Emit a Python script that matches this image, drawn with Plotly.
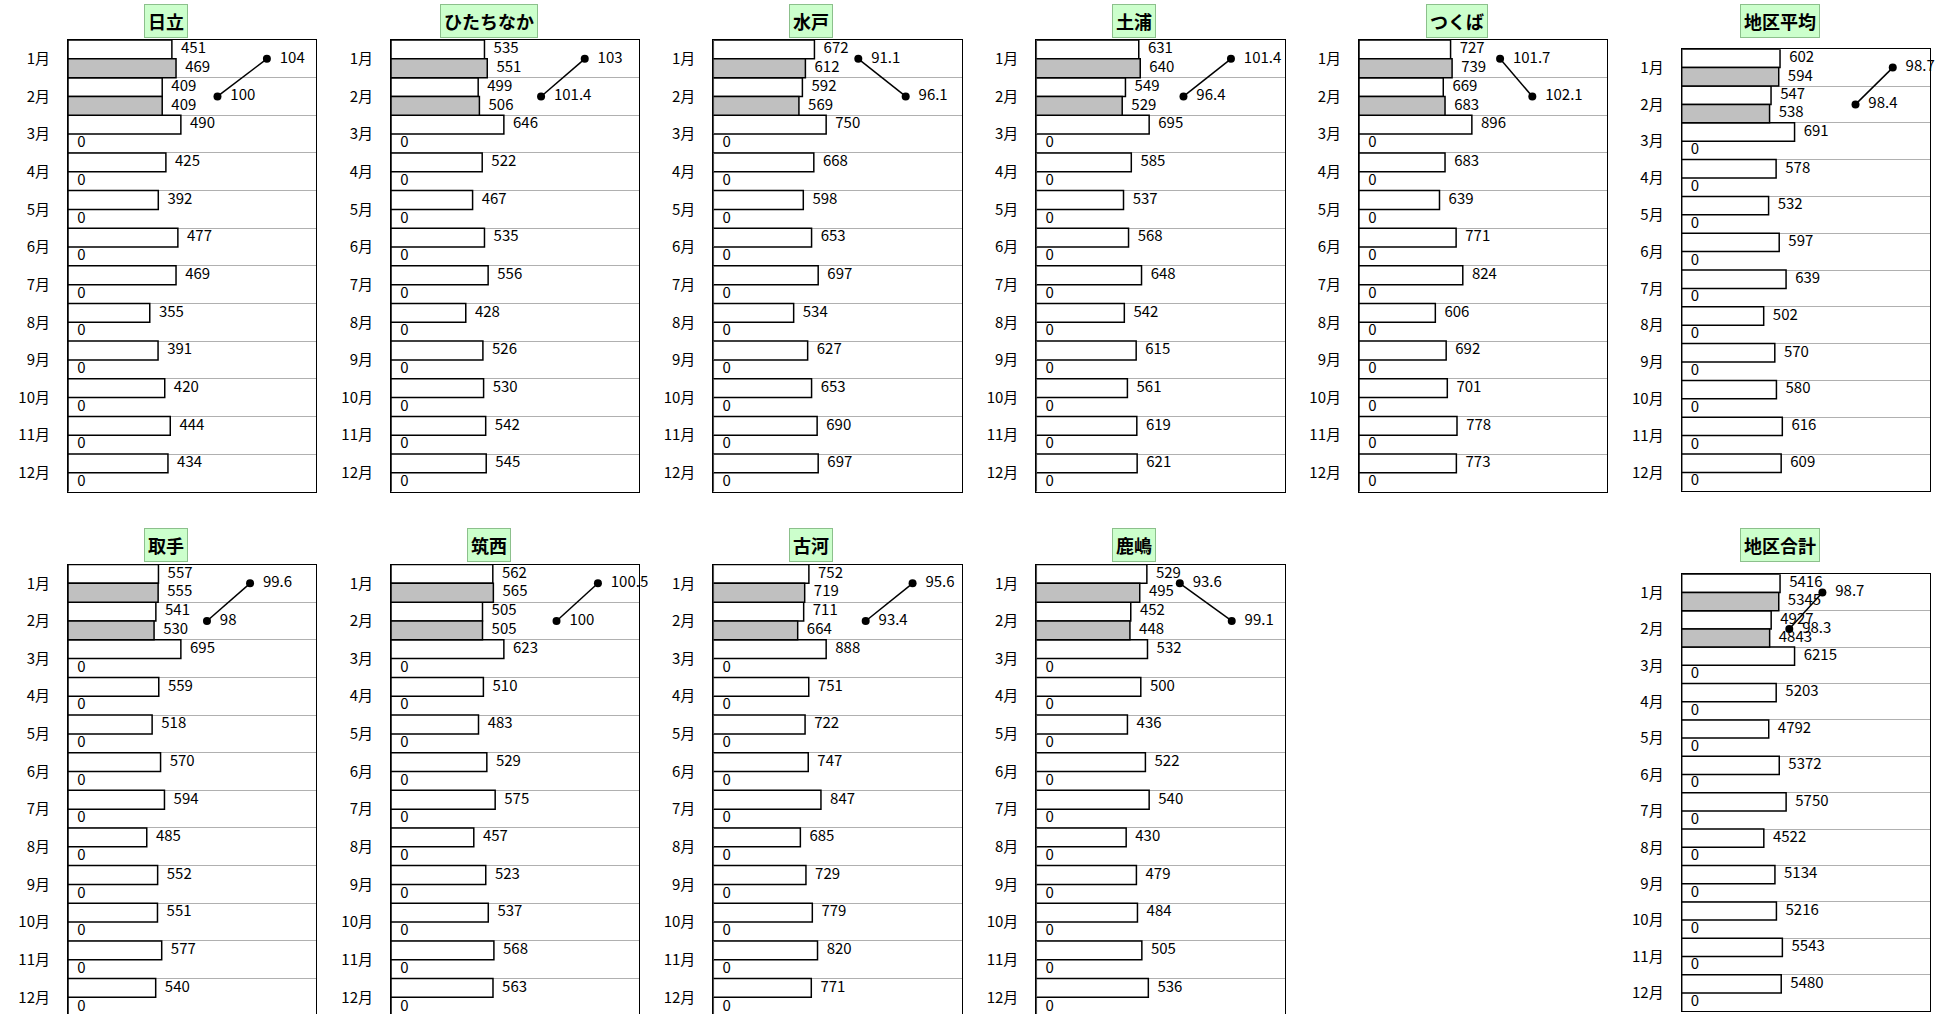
import plotly.graph_objects as go

W, H = 1948, 1014

months = ["1月", "2月", "3月", "4月", "5月", "6月", "7月", "8月", "9月", "10月", "11月", "12月"]
regions = ["日立", "ひたちなか", "水戸", "土浦", "つくば", "地区平均", "取手", "筑西", "古河", "鹿嶋", "地区合計"]

# previous year (white bars), current year (gray bars), ratio (line)
prev_hitachi = [451, 409, 490, 425, 392, 477, 469, 355, 391, 420, 444, 434]
cur_hitachi = [469, 409, 0, 0, 0, 0, 0, 0, 0, 0, 0, 0]
ratio_hitachi = [104, 100]

prev_hitachinaka = [535, 499, 646, 522, 467, 535, 556, 428, 526, 530, 542, 545]
cur_hitachinaka = [551, 506, 0, 0, 0, 0, 0, 0, 0, 0, 0, 0]
ratio_hitachinaka = [103, 101.4]

prev_mito = [672, 592, 750, 668, 598, 653, 697, 534, 627, 653, 690, 697]
cur_mito = [612, 569, 0, 0, 0, 0, 0, 0, 0, 0, 0, 0]
ratio_mito = [91.1, 96.1]

prev_tsuchiura = [631, 549, 695, 585, 537, 568, 648, 542, 615, 561, 619, 621]
cur_tsuchiura = [640, 529, 0, 0, 0, 0, 0, 0, 0, 0, 0, 0]
ratio_tsuchiura = [101.4, 96.4]

prev_tsukuba = [727, 669, 896, 683, 639, 771, 824, 606, 692, 701, 778, 773]
cur_tsukuba = [739, 683, 0, 0, 0, 0, 0, 0, 0, 0, 0, 0]
ratio_tsukuba = [101.7, 102.1]

prev_avg = [602, 547, 691, 578, 532, 597, 639, 502, 570, 580, 616, 609]
cur_avg = [594, 538, 0, 0, 0, 0, 0, 0, 0, 0, 0, 0]
ratio_avg = [98.7, 98.4]

prev_toride = [557, 541, 695, 559, 518, 570, 594, 485, 552, 551, 577, 540]
cur_toride = [555, 530, 0, 0, 0, 0, 0, 0, 0, 0, 0, 0]
ratio_toride = [99.6, 98]

prev_chikusei = [562, 505, 623, 510, 483, 529, 575, 457, 523, 537, 568, 563]
cur_chikusei = [565, 505, 0, 0, 0, 0, 0, 0, 0, 0, 0, 0]
ratio_chikusei = [100.5, 100]

prev_koga = [752, 711, 888, 751, 722, 747, 847, 685, 729, 779, 820, 771]
cur_koga = [719, 664, 0, 0, 0, 0, 0, 0, 0, 0, 0, 0]
ratio_koga = [95.6, 93.4]

prev_kashima = [529, 452, 532, 500, 436, 522, 540, 430, 479, 484, 505, 536]
cur_kashima = [495, 448, 0, 0, 0, 0, 0, 0, 0, 0, 0, 0]
ratio_kashima = [93.6, 99.1]

prev_total = [5416, 4927, 6215, 5203, 4792, 5372, 5750, 4522, 5134, 5216, 5543, 5480]
cur_total = [5345, 4843, 0, 0, 0, 0, 0, 0, 0, 0, 0, 0]
ratio_total = [98.7, 98.3]

series = [
    (prev_hitachi, cur_hitachi, ratio_hitachi),
    (prev_hitachinaka, cur_hitachinaka, ratio_hitachinaka),
    (prev_mito, cur_mito, ratio_mito),
    (prev_tsuchiura, cur_tsuchiura, ratio_tsuchiura),
    (prev_tsukuba, cur_tsukuba, ratio_tsukuba),
    (prev_avg, cur_avg, ratio_avg),
    (prev_toride, cur_toride, ratio_toride),
    (prev_chikusei, cur_chikusei, ratio_chikusei),
    (prev_koga, cur_koga, ratio_koga),
    (prev_kashima, cur_kashima, ratio_kashima),
    (prev_total, cur_total, ratio_total),
]

# ---- layout / style (pixel geometry) ----
cols_left = [68, 391, 713.3, 1036.3, 1359, 1681.7]
plot_w = 248.3
panel_geo = [  # (left px, top px, row height px, line-axis range)
    (cols_left[0], 40, 37.64, [87.9, 108.0]),
    (cols_left[1], 40, 37.64, [95.9, 105.0]),
    (cols_left[2], 40, 37.64, [75.8, 102.0]),
    (cols_left[3], 40, 37.64, [80.9, 107.05]),
    (cols_left[4], 40, 37.64, [99.95, 103.03]),
    (cols_left[5], 49.2, 36.8, [97.0, 99.0]),
    (cols_left[0], 564.5, 37.64, [92.84, 102.06]),
    (cols_left[1], 564.5, 37.64, [98.0, 101.0]),
    (cols_left[2], 564.5, 37.64, [86.25, 97.9]),
    (cols_left[3], 564.5, 37.64, [78.4, 104.7]),
    (cols_left[5], 574.3, 36.4, [97.0, 100.0]),
]

FONT = "Noto Sans CJK JP, Noto Sans, sans-serif"
BAR_LINE = dict(color="black", width=1.5)

fig = go.Figure()
layout = dict(
    width=W, height=H,
    margin=dict(l=0, r=0, t=0, b=0),
    paper_bgcolor="white", plot_bgcolor="white",
    showlegend=False, barmode="overlay",
    font=dict(family=FONT, size=15, color="black"),
    annotations=[],
)

idx = list(range(12))
for k, (name, (prev, cur, ratio), geo) in enumerate(zip(regions, series, panel_geo)):
    left, top, rowh, lrange = geo
    n = k + 1
    xa_bar = f"x{2 * n - 1}" if n > 1 else "x"
    xa_line = f"x{2 * n}"
    ya = f"y{n}" if n > 1 else "y"

    y_prev = [i - 0.25 for i in idx]
    y_cur = [i + 0.25 for i in idx]

    fig.add_trace(go.Bar(x=prev, y=y_prev, orientation="h", width=0.5,
                         marker=dict(color="white", line=BAR_LINE),
                         xaxis=xa_bar, yaxis=ya, hoverinfo="skip"))
    fig.add_trace(go.Bar(x=cur, y=y_cur, orientation="h", width=0.5,
                         marker=dict(color="#c0c0c0", line=BAR_LINE),
                         xaxis=xa_bar, yaxis=ya, hoverinfo="skip"))
    # value labels
    fig.add_trace(go.Scatter(x=prev + cur, y=y_prev + y_cur, mode="markers+text",
                             text=[str(v) for v in prev + cur], textposition="middle right",
                             marker=dict(size=13, color="rgba(0,0,0,0)"),
                             textfont=dict(size=15, color="black", family=FONT),
                             cliponaxis=False, xaxis=xa_bar, yaxis=ya, hoverinfo="skip"))
    # ratio line
    fig.add_trace(go.Scatter(x=ratio, y=idx[:len(ratio)], mode="lines+markers",
                             line=dict(color="black", width=1.5),
                             marker=dict(size=8, color="black"),
                             cliponaxis=False, xaxis=xa_line, yaxis=ya, hoverinfo="skip"))
    fig.add_trace(go.Scatter(x=ratio, y=idx[:len(ratio)], mode="markers+text",
                             text=[f"{v:g}" for v in ratio], textposition="middle right",
                             marker=dict(size=19, color="rgba(0,0,0,0)"),
                             textfont=dict(size=15, color="black", family=FONT),
                             cliponaxis=False, xaxis=xa_line, yaxis=ya, hoverinfo="skip"))

    bottom = top + 12 * rowh
    yr_low = 11.5
    if bottom > H:
        yr_low = -0.5 + (H - top) / rowh
        bottom = H
    xdom = [left / W, (left + plot_w) / W]
    ydom = [1 - bottom / H, 1 - top / H]
    bar_max = max(prev + cur) * 2.2

    key_bar = "xaxis" if n == 1 else f"xaxis{2 * n - 1}"
    key_line = f"xaxis{2 * n}"
    key_y = "yaxis" if n == 1 else f"yaxis{n}"
    layout[key_bar] = dict(domain=xdom, anchor=ya, range=[0, bar_max],
                           showline=True, mirror=True, linecolor="black", linewidth=1,
                           showticklabels=False, showgrid=False, zeroline=False, ticks="")
    layout[key_line] = dict(domain=xdom, anchor=ya, overlaying=xa_bar, range=lrange,
                            visible=False, showgrid=False, zeroline=False)
    layout[key_y] = dict(domain=ydom, anchor=xa_bar, range=[yr_low, -0.5],
                         tickmode="array", tickvals=idx, ticktext=months,
                         showgrid=False, zeroline=False, ticks="",
                         showline=True, mirror=True, linecolor="black", linewidth=1,
                         ticklabelstandoff=14,
                         tickfont=dict(size=15, color="black", family=FONT),
                         minor=dict(tickmode="array", tickvals=[i + 0.5 for i in idx[:-1]],
                                    showgrid=True, gridcolor="#b0b0b0", gridwidth=1, ticks=""))

    title_y = 21 if top < 300 else 545
    layout["annotations"].append(dict(
        text=f"<b>{name}</b>", xref="paper", yref="paper",
        x=(left + plot_w / 2 - 26) / W, y=1 - title_y / H,
        xanchor="center", yanchor="middle", showarrow=False,
        font=dict(size=18, color="black", family=FONT),
        bgcolor="#ccffcc", bordercolor="#8cc08c", borderwidth=1, borderpad=3,
    ))

fig.update_layout(**layout)
fig.write_html("out.html", config={"displayModeBar": False},
               post_script="document.body.style.margin='0';document.body.style.overflow='hidden';")
